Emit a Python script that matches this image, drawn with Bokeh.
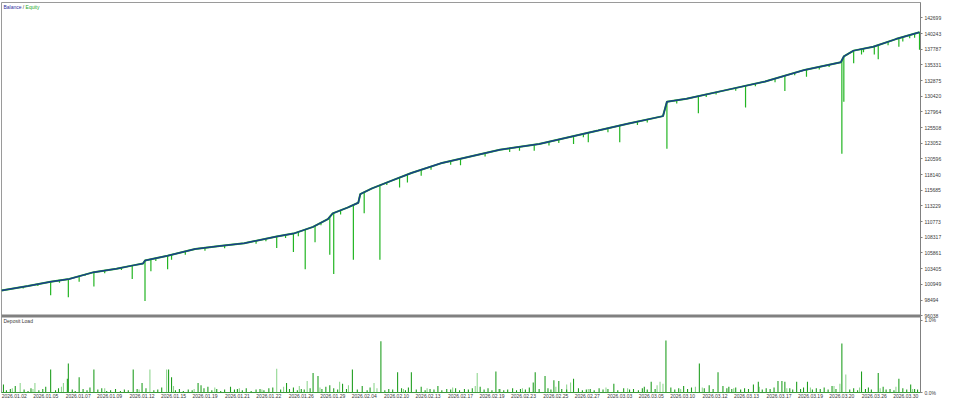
from bokeh.plotting import figure
from bokeh.models import Range1d, FixedTicker, Span, Label
from bokeh.embed import file_html
from bokeh.resources import INLINE
import numpy as np

# ---------------- data ----------------
date_pos = [16, 48, 81, 113, 146, 178, 210, 243, 275, 308, 340, 372, 405, 437, 470,
            502, 534, 567, 599, 632, 664, 696, 729, 761, 794, 826, 858, 891, 923]
date_labels = ["2026.01.02", "2026.01.05", "2026.01.07", "2026.01.09", "2026.01.12",
               "2026.01.15", "2026.01.19", "2026.01.21", "2026.01.22", "2026.01.26",
               "2026.01.29", "2026.02.04", "2026.02.10", "2026.02.13", "2026.02.17",
               "2026.02.19", "2026.02.23", "2026.02.25", "2026.02.27", "2026.03.03",
               "2026.03.05", "2026.03.10", "2026.03.12", "2026.03.13", "2026.03.17",
               "2026.03.19", "2026.03.20", "2026.03.26", "2026.03.30"]

y_ticks = [96038, 98494, 100949, 103405, 105861, 108317, 110773, 113229, 115685, 118140,
           120596, 123052, 125508, 127964, 130420, 132875, 135331, 137787, 140243, 142699]
load_ticks = [0.0, 1.0]

# balance curve (deal index, balance)
bal_x = [3, 30, 53, 72, 97, 120, 137, 147, 149, 172, 200, 225, 250, 283, 300, 320, 335,
         340, 355, 366, 368, 380, 400, 420, 450, 480, 510, 550, 580, 610, 640, 676, 680,
         700, 740, 780, 820, 857, 860, 870, 890, 913, 937]
bal_v = [100000, 100700, 101350, 101800, 102860, 103400, 103920, 104220, 104670, 105430,
         106480, 106950, 107390, 108440, 108900, 109950, 111160, 112070, 112970, 113730,
         115080, 115990, 117200, 118400, 119910, 120970, 122030, 122930, 123990, 125040,
         126100, 127310, 129570, 130020, 131380, 132740, 134550, 135760, 136660, 137570,
         138170, 139380, 140440]

# equity drawdown spikes (deal index, lowest equity)
eq_drops = [(25, 100300), (40, 100700), (53, 99240), (62, 101200), (71, 98940), (82, 101350),
            (88, 102300), (97, 100600), (108, 102700), (125, 103200), (136, 101800),
            (149, 98330), (155, 103010), (160, 104600), (172, 103320), (176, 104820),
            (190, 105600), (210, 106200), (230, 106600), (262, 107300), (272, 107700),
            (283, 106630), (292, 108200), (300, 106030), (305, 108500), (312, 103320),
            (322, 107540), (328, 110200), (337, 105580), (341, 102560), (348, 111900),
            (361, 104820), (372, 112070), (388, 104820), (395, 116500), (408, 116140),
            (416, 116900), (430, 117950), (440, 118900), (460, 119700), (470, 119610),
            (495, 121000), (520, 121700), (530, 121900), (545, 121880), (560, 122700),
            (570, 123100), (585, 122930), (595, 124000), (600, 123230), (620, 124800),
            (632, 123230), (650, 125900), (660, 126300), (680, 122180), (690, 129300),
            (712, 127760), (720, 130300), (730, 130700), (750, 131300), (760, 128670),
            (770, 132000), (790, 132600), (800, 131230), (810, 133700), (822, 133490),
            (835, 134600), (845, 135000), (858, 121420), (860, 129570), (870, 135610),
            (878, 136970), (880, 137300), (891, 136970), (895, 136210), (905, 138400),
            (916, 138170), (920, 139000), (927, 139530), (932, 139600), (937, 137720)]

# deposit load, % (deal index, load)
load_dark = [(5, 0.11), (17, 0.09), (53, 0.32), (70, 0.19), (71, 0.40), (82, 0.21),
             (97, 0.32), (137, 0.32), (146, 0.13), (173, 0.32), (176, 0.21), (203, 0.13),
             (293, 0.13), (320, 0.27), (325, 0.23), (360, 0.32), (389, 0.71), (406, 0.28),
             (420, 0.28), (506, 0.29), (544, 0.14), (546, 0.28), (556, 0.23), (565, 0.17),
             (570, 0.16), (585, 0.19), (626, 0.12), (664, 0.15), (679, 0.72), (713, 0.40),
             (732, 0.28), (773, 0.15), (793, 0.16), (797, 0.16), (800, 0.15), (812, 0.15),
             (823, 0.15), (858, 0.68), (878, 0.29), (895, 0.27), (916, 0.19), (928, 0.11),
             (8, 0.03), (12, 0.05), (26, 0.04), (30, 0.02), (33, 0.06), (41, 0.03), (45, 0.05),
             (48, 0.08), (58, 0.03), (61, 0.06), (75, 0.04), (78, 0.02), (86, 0.05), (90, 0.03),
             (93, 0.07), (101, 0.04), (105, 0.06), (110, 0.02), (114, 0.03), (119, 0.05),
             (124, 0.02), (128, 0.04), (132, 0.03), (141, 0.05), (150, 0.06), (158, 0.03),
             (162, 0.04), (166, 0.07), (180, 0.03), (184, 0.05), (188, 0.02), (193, 0.04),
             (197, 0.03), (206, 0.10), (209, 0.06), (213, 0.08), (217, 0.03), (222, 0.05),
             (226, 0.02), (230, 0.04), (236, 0.08), (240, 0.04), (243, 0.05), (248, 0.03),
             (252, 0.06), (257, 0.02), (262, 0.04), (266, 0.05), (270, 0.03), (275, 0.06),
             (279, 0.07), (287, 0.04), (296, 0.05), (300, 0.07), (304, 0.03), (308, 0.05),
             (311, 0.04), (317, 0.06), (329, 0.05), (333, 0.08), (337, 0.10), (341, 0.06),
             (345, 0.04), (350, 0.12), (354, 0.05), (365, 0.04), (370, 0.09), (375, 0.03),
             (378, 0.07), (393, 0.03), (397, 0.05), (401, 0.04), (410, 0.06), (414, 0.03),
             (417, 0.07), (425, 0.04), (430, 0.08), (434, 0.03), (439, 0.05), (443, 0.04),
             (447, 0.09), (451, 0.03), (456, 0.05), (460, 0.04), (465, 0.06), (469, 0.03),
             (474, 0.05), (478, 0.04), (482, 0.06), (490, 0.08), (494, 0.04), (498, 0.06),
             (502, 0.03), (510, 0.05), (514, 0.03), (518, 0.04), (523, 0.06), (527, 0.03),
             (531, 0.05), (536, 0.04), (540, 0.07), (550, 0.05), (559, 0.06), (562, 0.04),
             (573, 0.05), (578, 0.04), (590, 0.06), (594, 0.03), (598, 0.04), (602, 0.05),
             (606, 0.03), (611, 0.06), (615, 0.04), (620, 0.05), (630, 0.03), (636, 0.06),
             (642, 0.04), (646, 0.05), (651, 0.03), (655, 0.06), (657, 0.08), (660, 0.04),
             (668, 0.05), (684, 0.07), (688, 0.04), (692, 0.06), (697, 0.09), (701, 0.05),
             (705, 0.07), (718, 0.06), (723, 0.10), (727, 0.05), (737, 0.09), (741, 0.06),
             (743, 0.08), (746, 0.05), (750, 0.07), (755, 0.04), (759, 0.06), (763, 0.05),
             (768, 0.11), (777, 0.04), (781, 0.06), (785, 0.05), (789, 0.07), (805, 0.06),
             (808, 0.04), (816, 0.05), (819, 0.07), (828, 0.04), (832, 0.06), (836, 0.05),
             (840, 0.07), (844, 0.04), (848, 0.09), (852, 0.05), (866, 0.04), (870, 0.06),
             (874, 0.03), (882, 0.05), (885, 0.07), (888, 0.04), (900, 0.08), (903, 0.04),
             (907, 0.05), (911, 0.03), (920, 0.06), (924, 0.04), (932, 0.05), (935, 0.04)]
load_light = [(22, 0.13), (37, 0.13), (66, 0.13), (154, 0.32), (171, 0.32), (283, 0.33),
              (314, 0.16), (382, 0.13), (487, 0.27), (582, 0.14), (673, 0.15), (709, 0.08),
              (862, 0.25), (14, 0.06), (35, 0.05), (64, 0.08), (108, 0.06), (143, 0.04),
              (178, 0.09), (199, 0.05), (220, 0.07), (245, 0.06), (268, 0.04), (290, 0.08),
              (306, 0.09), (327, 0.07), (347, 0.15), (356, 0.10), (385, 0.06), (412, 0.05),
              (436, 0.06), (462, 0.07), (485, 0.09), (509, 0.05), (533, 0.06), (567, 0.08),
              (578, 0.11), (600, 0.05), (618, 0.07), (640, 0.06), (670, 0.10), (676, 0.12),
              (694, 0.05), (716, 0.07), (748, 0.06), (774, 0.08), (802, 0.06), (826, 0.07),
              (850, 0.09), (856, 0.12), (876, 0.07), (897, 0.06), (913, 0.08), (930, 0.05)]

# ---------------- styling constants ----------------
FONT = "Liberation Sans"
FS = "5px"
TXT = "#3a3a3a"
BAL_C = "#1c3d8c"
EQ_C = "#22b522"
DARK_G = "#1f9e1f"
LIGHT_G = "#8fd68f"

Y0, Y1 = 84000, 145113       # main value range (balance panel occupies upper part)
L1 = 5.4                     # load range top (load panel occupies lower part)
SEP = 95995                  # panel separator in balance units

p = figure(width=944, height=400, x_range=Range1d(3, 938), y_range=Range1d(Y0, Y1),
           output_backend="svg", toolbar_location=None, y_axis_location="right",
           min_border_left=1, min_border_top=2, min_border_bottom=0, min_border_right=0,
           background_fill_color="white", border_fill_color="white")
p.extra_y_ranges = {"load": Range1d(0, L1)}
p.grid.visible = False
p.outline_line_color = "#9a9a9a"
p.outline_line_width = 1

# ---- deposit load bars
ld_x, ld_v = zip(*load_dark)
ll_x, ll_v = zip(*load_light)
p.vbar(x=list(ll_x), top=list(ll_v), bottom=0, width=1.1, y_range_name="load",
       fill_color=LIGHT_G, line_color=None)
p.vbar(x=list(ld_x), top=list(ld_v), bottom=0, width=1.1, y_range_name="load",
       fill_color=DARK_G, line_color=None)

# ---- equity and balance
eq_x = np.array([d[0] for d in eq_drops], dtype=float)
eq_low = np.array([d[1] for d in eq_drops], dtype=float)
eq_top = np.interp(eq_x, bal_x, bal_v)
p.line(bal_x, bal_v, line_color=EQ_C, line_width=2.0)
p.segment(x0=eq_x, y0=eq_top, x1=eq_x, y1=eq_low, line_color=EQ_C, line_width=1.2)
p.line(bal_x, bal_v, line_color=BAL_C, line_width=1.5)

# ---- separator between panels
p.add_layout(Span(location=SEP, dimension="width", line_color="#808080", line_width=3))

# ---- right axis
load_pos = [int(round(Y0 + t / L1 * (Y1 - Y0))) for t in load_ticks]
ya = p.yaxis[0]
ya.ticker = FixedTicker(ticks=y_ticks + load_pos)
ov = {t: str(t) for t in y_ticks}
ov.update({pos: f"{t:.1f}%" for pos, t in zip(load_pos, load_ticks)})
ya.major_label_overrides = ov
ya.axis_line_color = "#808080"
ya.major_tick_line_color = "#808080"
ya.major_tick_out = 2
ya.major_tick_in = 0
ya.minor_tick_line_color = None
ya.major_label_standoff = 2
ya.major_label_text_font = FONT
ya.major_label_text_font_size = FS
ya.major_label_text_color = TXT

# ---- bottom axis
xa = p.xaxis[0]
xa.ticker = FixedTicker(ticks=date_pos)
xa.major_label_overrides = dict(zip(date_pos, date_labels))
xa.axis_line_color = "#3a9a3a"
xa.major_tick_line_color = None
xa.minor_tick_line_color = None
xa.major_tick_out = 0
xa.major_tick_in = 0
xa.major_label_standoff = 1
xa.major_label_text_font = FONT
xa.major_label_text_font_size = FS
xa.major_label_text_color = TXT

# ---- panel captions
def cap(x, y, text, color):
    p.add_layout(Label(x=x, y=y, text=text, text_font=FONT, text_font_size=FS,
                       text_color=color, text_baseline="top", text_align="left"))

cap(5, 144950, "Balance", "#2c2ca0")
cap(24.5, 144950, "/", TXT)
cap(27.5, 144950, "Equity", "#2aa82a")
cap(5, 95650, "Deposit Load", TXT)

open("out.html", "w").write(file_html(p, INLINE))
